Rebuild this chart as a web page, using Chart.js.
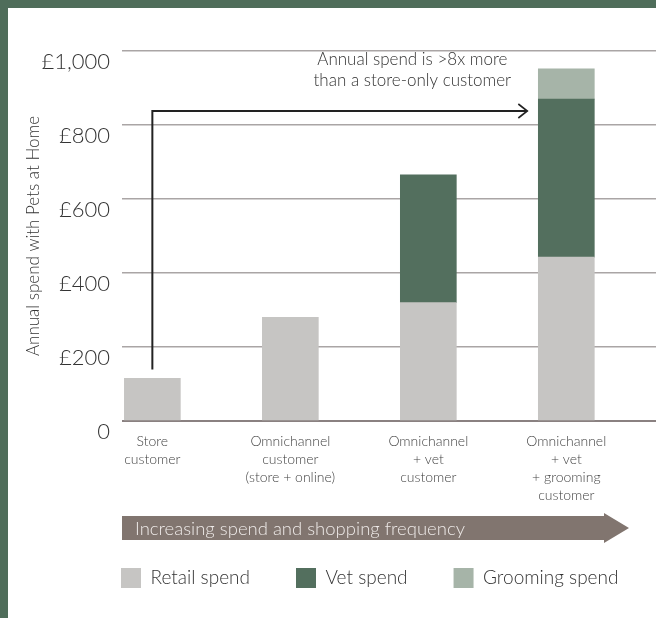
<!DOCTYPE html>
<html lang="en">
<head>
<meta charset="UTF-8">
<title>Annual spend with Pets at Home</title>
<script src="https://cdn.jsdelivr.net/npm/chart.js@4"></script>
<style>
    html, body {
        margin: 0;
        padding: 0;
        background: #4f6d5a;
    }
    body {
        width: 656px;
        height: 618px;
        overflow: hidden;
    }
    .panel {
        position: absolute;
        left: 8px;
        top: 8px;
        width: 648px;
        height: 610px;
        background: #fff;
    }
</style>
</head>
<body>
<div class="panel">
    <canvas id="spend-chart" width="648" height="610"></canvas>
</div>

<script>
// customer types, left to right
const categories = [
    ['Store', 'customer'],
    ['Omnichannel', 'customer', '(store + online)'],
    ['Omnichannel', '+ vet', 'customer'],
    ['Omnichannel', '+ vet', '+ grooming', 'customer']
];
// annual spend, £
const retailSpend = [115, 280, 320, 443];
const vetSpend = [null, null, 345, 427];
const groomingSpend = [null, null, null, 82];
const yTicks = [0, 200, 400, 600, 800, 1000];

const seriesNames = ['Retail spend', 'Vet spend', 'Grooming spend'];
const noteLines = ['Annual spend is >8x more', 'than a store-only customer'];
const bannerText = 'Increasing spend and shopping frequency';

const FONT = 'Lato, "Open Sans", sans-serif';

function points(values) {
    return values.map(function(v, i) { return { x: i, y: v }; });
}

// arrow from the store bar to the top bar + the note above it
const noteArrow = {
    id: 'noteArrow',
    afterDatasetsDraw: function(chart) {
        const ctx = chart.ctx;
        const xs = chart.scales.x, ys = chart.scales.y;
        const x0 = xs.getPixelForValue(0);
        const yStart = ys.getPixelForValue(retailSpend[0]) - 9;
        const yLine = chart.chartArea.top + 60;
        const xEnd = xs.getPixelForValue(categories.length - 1) - 39;
        ctx.save();
        ctx.strokeStyle = '#222';
        ctx.lineWidth = 2;
        ctx.beginPath();
        ctx.moveTo(x0, yStart);
        ctx.lineTo(x0, yLine);
        ctx.lineTo(xEnd, yLine);
        ctx.stroke();
        ctx.lineWidth = 1.6;
        ctx.beginPath();
        ctx.moveTo(xEnd - 9, yLine - 7);
        ctx.lineTo(xEnd, yLine);
        ctx.lineTo(xEnd - 9, yLine + 7);
        ctx.stroke();

        ctx.fillStyle = '#333';
        ctx.font = '300 17px ' + FONT;
        ctx.textAlign = 'center';
        ctx.textBaseline = 'alphabetic';
        const cx = xEnd - 115;
        ctx.fillText(noteLines[0], cx, yLine - 46);
        ctx.fillText(noteLines[1], cx, yLine - 25);
        ctx.restore();
    }
};

// the grey "increasing spend" arrow under the axis labels
const banner = {
    id: 'banner',
    afterDraw: function(chart) {
        const ctx = chart.ctx;
        const left = chart.chartArea.left;
        const top = chart.scales.x.bottom - 6;
        const h = 24;
        const bodyEnd = chart.chartArea.right - 52;
        const tip = chart.chartArea.right - 27;
        ctx.save();
        ctx.fillStyle = '#81756f';
        ctx.beginPath();
        ctx.moveTo(left, top);
        ctx.lineTo(bodyEnd, top);
        ctx.lineTo(bodyEnd, top - 3);
        ctx.lineTo(tip, top + h / 2);
        ctx.lineTo(bodyEnd, top + h + 3);
        ctx.lineTo(bodyEnd, top + h);
        ctx.lineTo(left, top + h);
        ctx.closePath();
        ctx.fill();
        ctx.fillStyle = '#eeeae8';
        ctx.font = '300 18.5px ' + FONT;
        ctx.textAlign = 'left';
        ctx.textBaseline = 'middle';
        ctx.fillText(bannerText, left + 13, top + h / 2 + 1);
        ctx.restore();
    }
};

// legend starts under the plot, not at the canvas edge
const legendShift = {
    id: 'legendShift',
    afterLayout: function(chart) {
        const lg = chart.legend;
        const shift = chart.chartArea.left - 1 - lg.options.labels.padding - lg.left;
        lg.left += shift;
        lg.right += shift;
    }
};

const ctx = document.getElementById('spend-chart').getContext('2d');
new Chart(ctx, {
    type: 'bar',
    data: {
        datasets: [
            { label: seriesNames[0], data: points(retailSpend), backgroundColor: '#c6c5c3' },
            { label: seriesNames[1], data: points(vetSpend), backgroundColor: '#536f5e' },
            { label: seriesNames[2], data: points(groomingSpend), backgroundColor: '#a6b4a8' }
        ]
    },
    options: {
        responsive: false,
        animation: false,
        barThickness: 56,
        borderWidth: 0,
        layout: { padding: { top: 43, right: 0, bottom: 20, left: 0 } },
        plugins: {
            tooltip: { enabled: false },
            legend: {
                position: 'bottom',
                align: 'start',
                labels: {
                    boxWidth: 20,
                    boxHeight: 20,
                    padding: 46,
                    color: '#333',
                    font: { family: FONT, size: 19, weight: 300 }
                }
            }
        },
        scales: {
            x: {
                type: 'linear',
                stacked: true,
                offset: false,
                min: -0.22,
                max: 3.65,
                grid: { display: false },
                border: { display: false },
                afterBuildTicks: function(scale) {
                    scale.ticks = categories.map(function(c, i) { return { value: i }; });
                },
                afterFit: function(scale) { scale.height = 101; },
                ticks: {
                    autoSkip: false,
                    maxRotation: 0,
                    padding: 3,
                    color: '#444',
                    font: { family: FONT, size: 14, weight: 300, lineHeight: 1.29 },
                    callback: function(value) { return categories[value]; }
                }
            },
            y: {
                stacked: true,
                min: 0,
                max: 1000,
                afterBuildTicks: function(scale) {
                    scale.ticks = yTicks.map(function(v) { return { value: v }; });
                },
                afterFit: function(scale) { scale.width = 114; },
                grid: {
                    drawTicks: false,
                    color: function(c) { return c.tick.value === 0 ? '#8a8181' : '#aaa5a5'; },
                    lineWidth: function(c) { return c.tick.value === 0 ? 2 : 1.5; }
                },
                border: { display: false },
                ticks: {
                    padding: 12,
                    labelOffset: 11,
                    color: '#333',
                    font: { family: FONT, size: 22, weight: 300 },
                    callback: function(v) { return v === 0 ? '0' : '£' + v.toLocaleString('en-GB'); }
                },
                title: {
                    display: true,
                    text: 'Annual spend with Pets at Home',
                    color: '#333',
                    font: { family: FONT, size: 17, weight: 300 },
                    padding: { top: 15, bottom: 0 }
                }
            }
        }
    },
    plugins: [noteArrow, banner, legendShift]
});
</script>
</body>
</html>
